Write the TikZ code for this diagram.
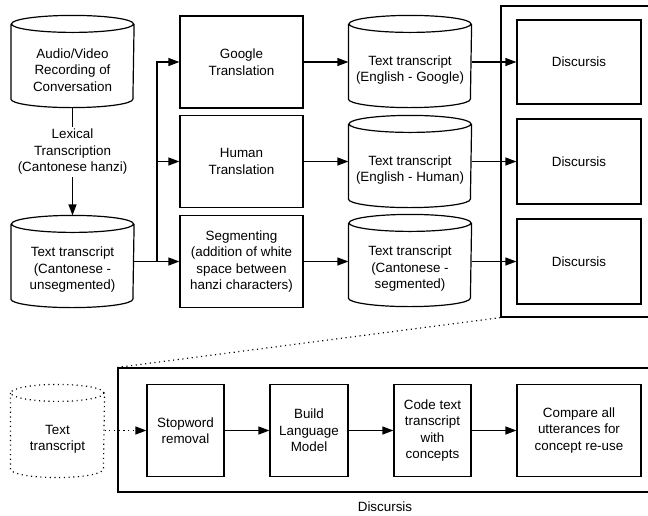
\documentclass[tikz,border=0pt]{standalone}
\usepackage{fontspec}
\setmainfont{Liberation Sans}
\usetikzlibrary{arrows.meta}

\begin{document}
\begin{tikzpicture}[x=1pt, y=-1pt, line width=1.2pt,
    every node/.style={font=\fontsize{13.4}{16.5}\selectfont, align=center, inner sep=2pt},
    box/.style={draw, minimum width=#1, minimum height=92pt},
    box/.default=123pt,
    store/.style={minimum width=#1, minimum height=74pt},
    store/.default=122pt,
    arr/.style={-{Triangle[length=11pt,width=8pt]}},
    dots/.style={dash pattern=on 1.1pt off 3.6pt}]
    \useasboundingbox (0,0) rectangle (648,515);

    % Define node positions
    \node[store] (rec) at (72.5,70) {Audio/Video\\Recording of\\Conversation};
    \node (lex) at (72.5,152) {Lexical\\Transcription\\(Cantonese hanzi)};
    \node[store] (raw) at (72.5,270) {Text transcript\\(Cantonese -\\unsegmented)};

    \node[box] (gtr) at (241.5,62) {Google\\Translation};
    \node[box] (htr) at (241.5,161.5) {Human\\Translation};
    \node[box] (sgm) at (241.5,261.5) {Segmenting\\(addition of white\\space between\\hanzi characters)};

    \node[store] (engG) at (410,70) {Text transcript\\(English - Google)};
    \node[store] (engH) at (410,170) {Text transcript\\(English - Human)};
    \node[store] (seg) at (410,269) {Text transcript\\(Cantonese -\\segmented)};

    \node[draw, minimum width=149pt, minimum height=311pt] (dframe) at (575.5,161.5) {};
    \node[box=124pt, minimum height=84pt] (dsc1) at (579,62) {Discursis};
    \node[box=124pt, minimum height=85pt] (dsc2) at (579,161.5) {Discursis};
    \node[box=124pt, minimum height=85pt] (dsc3) at (579,261.5) {Discursis};

    % Cylinder outlines
    \foreach \c in {rec,raw,engG,engH,seg}
        \draw ([yshift=8.5pt]\c.north west) -- ([yshift=8.5pt]\c.south west)
            arc[start angle=180, end angle=360, x radius=61pt, y radius=8.5pt]
            -- ([yshift=8.5pt]\c.north east)
            ([yshift=8.5pt]\c.north) ellipse[x radius=61pt, y radius=8.5pt];

    % Draw arrows
    \draw (rec.south) -- (lex.north);
    \draw[arr] (lex.south) -- ([yshift=17pt]raw.north);
    \coordinate (fork) at (157,261.5);
    \draw (raw.east |- sgm.west) -- (fork);
    \draw[arr] (fork) -- (sgm.west);
    \draw[arr] (fork) |- (gtr.west);
    \draw[arr] (fork) |- (htr.west);
    \draw[arr] (gtr.east) -- (gtr.east -| engG.west);
    \draw[arr] (htr.east) -- (htr.east -| engH.west);
    \draw[arr] (sgm.east) -- (sgm.east -| seg.west);
    \draw[arr] (engG.east |- dsc1.west) -- (dsc1.west);
    \draw[arr] (engH.east |- dsc2.west) -- (dsc2.west);
    \draw[arr] (seg.east |- dsc3.west) -- (dsc3.west);

    % Discursis in detail
    \node[store=93pt, minimum height=75pt] (txt) at (57.5,439.5) {Text\\transcript};
    \node[draw, minimum width=532pt, minimum height=124pt] (dzoom) at (384,430) {};
    \node[box=77pt] (stp) at (185.5,430.5) {Stopword\\removal};
    \node[box=78pt] (blm) at (309,430.5) {Build\\Language\\Model};
    \node[box=77pt] (ctt) at (432.5,430.5) {Code text\\transcript\\with\\concepts};
    \node[box=124pt] (cmp) at (579,430.5) {Compare all\\utterances for\\concept re-use};
    \node (dlbl) at (385,507) {Discursis};

    \draw[dots] ([yshift=8.5pt]txt.north west) -- ([yshift=8.5pt]txt.south west)
        arc[start angle=180, end angle=360, x radius=46.5pt, y radius=8.5pt]
        -- ([yshift=8.5pt]txt.north east)
        ([yshift=8.5pt]txt.north) ellipse[x radius=46.5pt, y radius=8.5pt];

    \draw[dots] (dframe.south west) -- (dzoom.north west);
    \draw[arr, dots] (txt.east |- stp.west) -- (stp.west);
    \draw[arr] (stp.east) -- (blm.west);
    \draw[arr] (blm.east) -- (ctt.west);
    \draw[arr] (ctt.east) -- (cmp.west);
\end{tikzpicture}
\end{document}
